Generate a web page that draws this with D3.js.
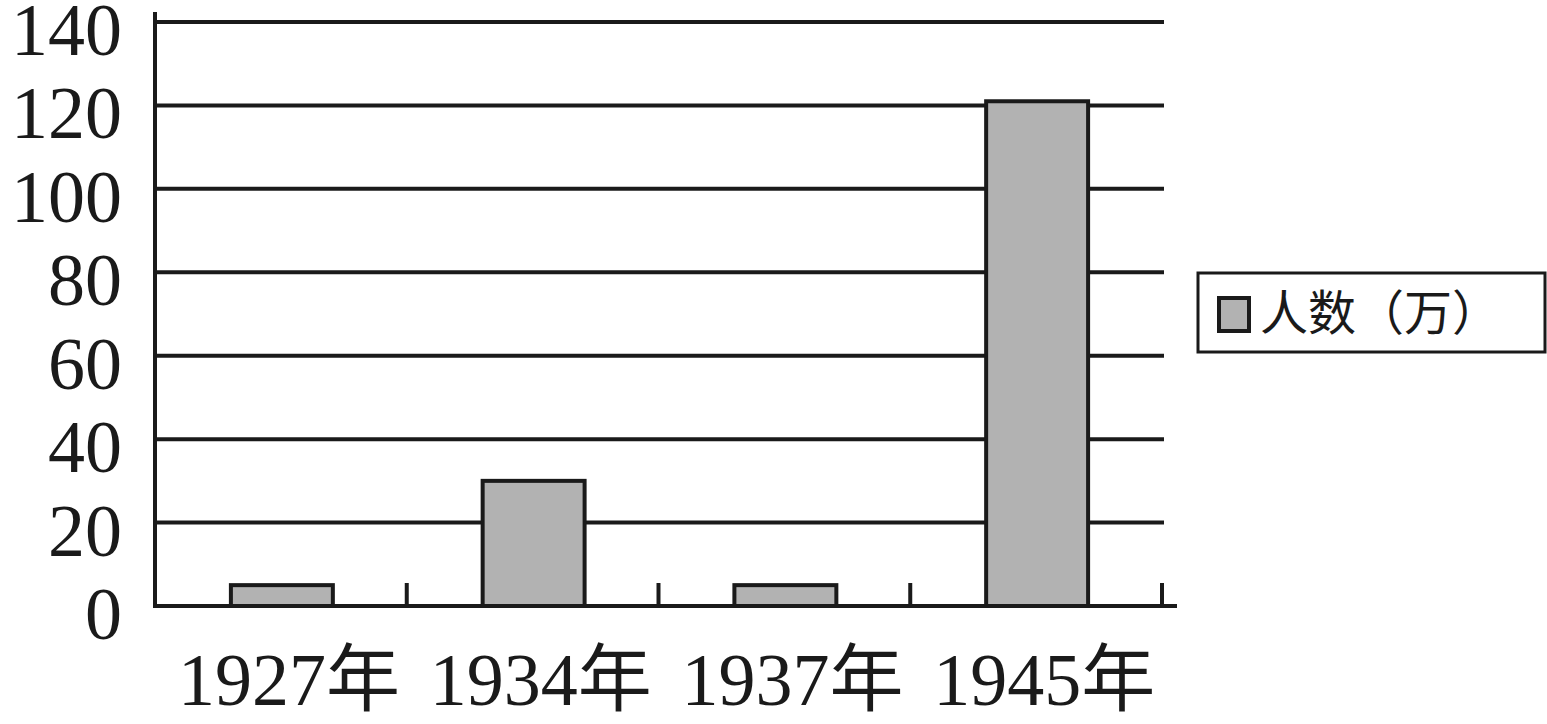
<!DOCTYPE html>
<html>
<head>
<meta charset="utf-8">
<script src="https://cdn.jsdelivr.net/npm/d3@7"></script>
<style>
  html, body { margin: 0; padding: 0; background: #fff; }
  svg { display: block; }
</style>
</head>
<body>
<div id="chart"></div>
<script>
// Data
var years = ["1927年", "1934年", "1937年", "1945年"];
var people = [5, 30, 5, 121];
var yTicks = [0, 20, 40, 60, 80, 100, 120, 140];
var seriesName = "人数（万）";

var totwidth = 1547,
	totheight = 724,
	ink = "#1a1a1a",
	barFill = "#b2b2b2",
	fontFam = "'Liberation Serif', 'Times New Roman', 'Noto Sans CJK SC', serif";

var svg = d3.select("#chart").append("svg")
	.attr("width", totwidth)
	.attr("height", totheight);

// Scales
var x = d3.scaleBand()
	.domain(years)
	.range([155, 1162])
	.padding(0);

var y = d3.scaleLinear()
	.domain([0, 140])
	.range([606, 22]);

var barW = x.bandwidth() * 0.405;

// Gridlines
svg.append("g")
	.selectAll("line")
	.data(yTicks.filter(function(d) { return d > 0; }))
	.enter().append("line")
		.attr("x1", 155)
		.attr("x2", 1164)
		.attr("y1", function(d) { return y(d); })
		.attr("y2", function(d) { return y(d); })
		.attr("stroke", ink)
		.attr("stroke-width", 4);

// Y tick labels
svg.append("g")
	.selectAll("text")
	.data(yTicks)
	.enter().append("text")
		.attr("x", 122)
		.attr("y", function(d) { return y(d) + 33; })
		.attr("text-anchor", "end")
		.attr("font-family", fontFam)
		.attr("font-size", 74)
		.attr("fill", ink)
		.text(function(d) { return d; });

// Bars
svg.append("g")
	.selectAll("rect")
	.data(people)
	.enter().append("rect")
		.attr("x", function(d, i) { return x(years[i]) + (x.bandwidth() - barW) / 2 + 1; })
		.attr("y", function(d) { return y(d); })
		.attr("width", barW)
		.attr("height", function(d) { return y(0) - y(d); })
		.attr("fill", barFill)
		.attr("stroke", ink)
		.attr("stroke-width", 4);

// Axes lines
svg.append("line")
	.attr("x1", 155).attr("x2", 155)
	.attr("y1", 12).attr("y2", 608)
	.attr("stroke", ink).attr("stroke-width", 4);

svg.append("line")
	.attr("x1", 153).attr("x2", 1177)
	.attr("y1", y(0)).attr("y2", y(0))
	.attr("stroke", ink).attr("stroke-width", 4);

// X ticks at band edges (pointing up)
var edges = years.map(function(d) { return x(d); }).concat([x.range()[1]]).slice(1);
svg.append("g")
	.selectAll("line")
	.data(edges)
	.enter().append("line")
		.attr("x1", function(d) { return d; })
		.attr("x2", function(d) { return d; })
		.attr("y1", y(0))
		.attr("y2", y(0) - 23)
		.attr("stroke", ink)
		.attr("stroke-width", 4);

// X labels
svg.append("g")
	.selectAll("text")
	.data(years)
	.enter().append("text")
		.attr("x", function(d) { return x(d) + x.bandwidth() / 2 + 8; })
		.attr("y", 705)
		.attr("text-anchor", "middle")
		.attr("font-family", fontFam)
		.attr("font-size", 74)
		.attr("fill", ink)
		.text(function(d) { return d; });

// Legend
var legend = svg.append("g").attr("transform", "translate(1198,273)");
legend.append("rect")
	.attr("width", 347)
	.attr("height", 79)
	.attr("fill", "#fff")
	.attr("stroke", ink)
	.attr("stroke-width", 3);
legend.append("rect")
	.attr("x", 21).attr("y", 25)
	.attr("width", 30).attr("height", 33)
	.attr("fill", barFill)
	.attr("stroke", ink)
	.attr("stroke-width", 4);
legend.append("text")
	.attr("x", 62)
	.attr("y", 57)
	.attr("font-family", "'Noto Sans CJK SC', sans-serif")
	.attr("font-size", 48)
	.attr("fill", ink)
	.text(seriesName);
</script>
</body>
</html>
